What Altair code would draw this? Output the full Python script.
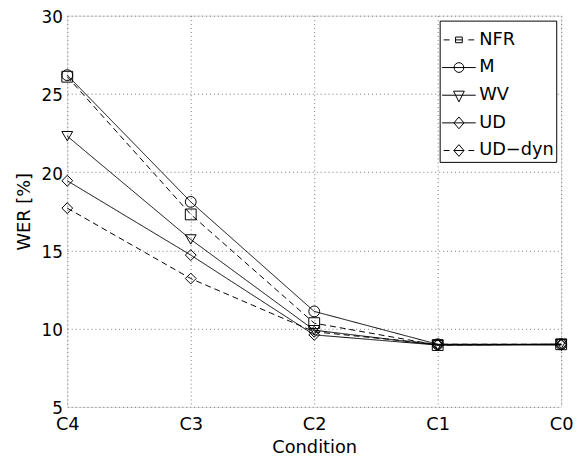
import altair as alt
import pandas as pd

conditions = ["C4", "C3", "C2", "C1", "C0"]
series = ["NFR", "M", "WV", "UD", "UD\u2212dyn"]
nfr = [26.1, 17.3, 10.35, 8.95, 9.0]
m_vals = [26.2, 18.1, 11.1, 9.0, 9.0]
wv = [22.3, 15.7, 9.9, 8.95, 9.0]
ud = [19.45, 14.7, 9.6, 8.95, 8.95]
uddyn = [17.7, 13.2, 9.8, 9.0, 9.0]

dashes = [[6, 4], [1, 0], [1, 0], [1, 0], [6, 4]]
shapes = ["square", "circle", "triangle-down", "diamond", "diamond"]
legend_paths = [
    "M-0.91,0L-0.56,0M-0.2,-0.17L0.2,-0.17L0.2,0.17L-0.2,0.17ZM-0.2,0L0.2,0M0.56,0L0.91,0",
    "M-1,0L1,0M-0.29,0A0.29,0.29,0,1,0,0.29,0A0.29,0.29,0,1,0,-0.29,0Z",
    "M-1,0L1,0M-0.32,-0.24L0.32,-0.24L0,0.4Z",
    "M-1,0L1,0M0,-0.35L0.3,0L0,0.35L-0.3,0Z",
    "M-0.91,0L-0.56,0M0,-0.35L0.3,0L0,0.35L-0.3,0ZM-0.3,0L0.3,0M0.56,0L0.91,0",
]

rows = []
for name, vals in zip(series, [nfr, m_vals, wv, ud, uddyn]):
    for c, v in zip(conditions, vals):
        rows.append({"Condition": c, "WER": v, "Series": name})
df = pd.DataFrame(rows)

FONT = "DejaVu Sans"

x_enc = alt.X(
    "Condition:N",
    sort=conditions,
    scale=alt.Scale(type="point", padding=0),
    axis=alt.Axis(
        title="Condition", labelAngle=0, labelFont=FONT, labelFontSize=18,
        labelPadding=9, tickSize=0, domain=False, grid=True,
        gridDash=[1, 3], gridColor="#777777", titleFont=FONT,
        titleFontSize=18, titleFontWeight="normal", titlePadding=5,
        labelColor="black", titleColor="black",
    ),
)
y_enc = alt.Y(
    "WER:Q",
    scale=alt.Scale(domain=[5, 30], nice=False, zero=False),
    axis=alt.Axis(
        title="WER [%]", values=[5, 10, 15, 20, 25, 30], labelFont=FONT,
        labelFontSize=17, labelPadding=5, labelOffset=2, tickSize=0,
        domain=False, grid=True, gridDash=[1, 3], gridColor="#777777",
        titleFont=FONT, titleFontSize=18, titleFontWeight="normal",
        titlePadding=8, labelColor="black", titleColor="black",
    ),
)

base = alt.Chart(df)

lines = base.mark_line(color="black", strokeWidth=1).encode(
    x=x_enc,
    y=y_enc,
    strokeDash=alt.StrokeDash(
        "Series:N", scale=alt.Scale(domain=series, range=dashes), legend=None
    ),
    detail="Series:N",
)

points = base.mark_point(
    filled=False, color="black", strokeWidth=1, size=120, opacity=1
).encode(
    x=x_enc,
    y=y_enc,
    shape=alt.Shape(
        "Series:N", scale=alt.Scale(domain=series, range=shapes), legend=None
    ),
)

legend_layer = base.transform_filter("false").mark_point(
    filled=False, color="black", strokeWidth=1, opacity=1
).encode(
    x=x_enc,
    y=y_enc,
    shape=alt.Shape(
        "Series:N",
        scale=alt.Scale(domain=series, range=legend_paths),
        legend=alt.Legend(
            title=None, orient="top-right", offset=5, strokeColor="black",
            fillColor="white", padding=2, labelFont=FONT, labelFontSize=18,
            labelColor="black", labelOffset=3, symbolSize=1156,
            symbolStrokeWidth=1, symbolStrokeColor="black",
            symbolFillColor="transparent", symbolOpacity=1, rowPadding=1,
            labelLimit=300,
        ),
    ),
)

chart = (
    alt.layer(lines, points, legend_layer)
    .resolve_scale(shape="independent")
    .properties(
        width=500,
        height=396,
        autosize=alt.AutoSizeParams(type="none"),
        padding={"left": 60, "top": 5, "right": 14, "bottom": 50},
    )
    .configure_view(stroke="black", strokeWidth=1)
    .configure(background="white")
)

chart.save("out.html", embed_options={"renderer": "svg", "actions": False})
